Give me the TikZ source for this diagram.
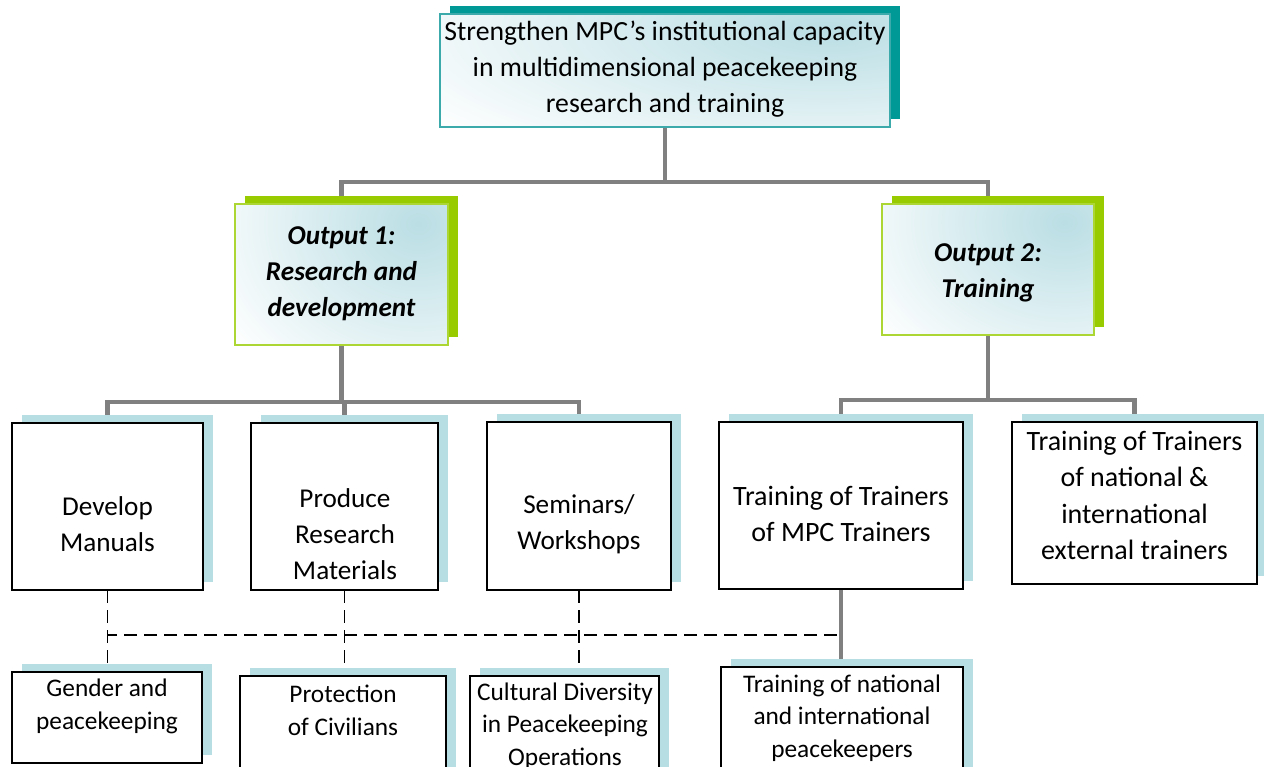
\documentclass[tikz,border=0pt]{standalone}
\usepackage{fontspec}
\setmainfont{Carlito}
\usetikzlibrary{shadows,calc,backgrounds}

\definecolor{tealdark}{RGB}{0,153,150}
\definecolor{tealline}{RGB}{60,170,170}
\definecolor{limegreen}{RGB}{153,204,0}
\definecolor{limeline}{RGB}{172,214,52}
\definecolor{paleblue}{RGB}{183,222,226}
\definecolor{softblue}{RGB}{186,222,228}
\definecolor{conngray}{RGB}{128,128,128}

\tikzset{
  px/.style 2 args={minimum width=#1*0.75pt, minimum height=#2*0.75pt},
  basebox/.style={rectangle, inner sep=0pt, outer sep=0pt},
  softfill/.style={fill=white, path picture={
      \shade[inner color=softblue, outer color=white] let
                \p1=(path picture bounding box.north east),
                \p2=(path picture bounding box.south west),
                \p3=($(path picture bounding box.north east)!0.14!(path picture bounding box.south west)$)
            in (\p3) ellipse ({1.1*(\x1-\x2)} and {1.4*(\y1-\y2)});}},
  offset shadow/.style={general shadow={shadow xshift=7.5pt, shadow yshift=6pt, fill=#1, draw=none}},
  goalbox/.style={basebox, softfill, draw=tealline, line width=1.4pt, offset shadow=tealdark},
  outbox/.style={basebox, softfill, draw=limeline, line width=1.4pt, offset shadow=limegreen},
  actbox/.style={basebox, fill=white, draw=black, line width=1.2pt, offset shadow=paleblue},
  goaltext/.style={align=center, font=\fontsize{20.8}{26.8}\selectfont},
  outtext/.style={align=center, font=\fontsize{20.4}{27}\selectfont\bfseries\itshape},
  bigtext/.style={align=center, font=\fontsize{20.4}{27}\selectfont},
  widetext/.style={align=center, font=\fontsize{21}{27.2}\selectfont},
  smalltext/.style={align=center, font=\fontsize{19}{24.5}\selectfont},
  conn/.style={draw=conngray, line width=3.2pt},
  dashline/.style={draw=black, line width=1.3pt, dash pattern=on 9.75pt off 5.25pt}
}

\begin{document}
\begin{tikzpicture}[x=0.75pt, y=-0.75pt]
\useasboundingbox (0,0) rectangle (1264,767);
\clip (0,0) rectangle (1264,767);

% goal
\node[goalbox, px={450}{113}] (top) at (665,70.5) {};
% outputs
\node[outbox, px={213}{141}] (o1) at (341.5,274.5) {};
\node[outbox, px={212}{131}] (o2) at (988,269.5) {};
% activities
\node[actbox, px={191}{167}] (dm)  at (107.5,506.5) {};
\node[actbox, px={187}{167}] (prm) at (344.5,506.5) {};
\node[actbox, px={184}{168}] (sem) at (579,506) {};
\node[actbox, px={244}{167}] (mpc) at (841,505.5) {};
\node[actbox, px={245}{162}] (ext) at (1134.5,503) {};
% themes
\node[actbox, px={190}{91}]  (gen) at (107,717.5) {};
\node[actbox, px={206}{104}] (poc) at (343,728) {};
\node[actbox, px={189}{109}] (cul) at (564.5,730.5) {};
\node[actbox, px={242}{118}] (tnp) at (842,726) {};

% labels
\node[goaltext] (ttop) at (665,69) {Strengthen MPC’s institutional capacity\\in multidimensional peacekeeping\\research and training};
\node[outtext] (to1) at (341.5,274) {Output 1:\\Research and\\development};
\node[outtext] (to2) at (988,273) {Output 2:\\Training};
\node[bigtext] (tdm) at (107.5,524) {Develop\\Manuals};
\node[bigtext] (tprm) at (345,534) {Produce\\Research\\Materials};
\node[bigtext] (tsem) at (579,524) {Seminars/\\Workshops};
\node[widetext] (tmpc) at (841,514) {Training of Trainers\\of MPC Trainers};
\node[widetext] (text) at (1134.5,495.5) {Training of Trainers\\of national \&\\international\\external trainers};
\node[smalltext] (tgen) at (107,706.5) {Gender and\\peacekeeping};
\node[smalltext] (tpoc) at (343,710.5) {Protection\\of Civilians};
\node[smalltext] (tcul) at (565,726) {Cultural Diversity\\in Peacekeeping\\Operations};
\node[smalltext] (ttnp) at (842,718) {Training of national\\and international\\peacekeepers};

% connectors
\begin{scope}[on background layer]
  \coordinate (bus0) at (665,182);
  \coordinate (bus1) at (341.5,402);
  \coordinate (bus2) at (988,400);
  \draw[conn] (top.south) -- (bus0);
  \draw[conn] (o1.north) |- (bus0) -| (o2.north);
  \draw[conn] (o1.south) -- (bus1);
  \draw[conn] (dm.north) |- (bus1) -| (sem.north);
  \draw[conn] (prm.north) -- (prm.north |- bus1);
  \draw[conn] (o2.south) -- (bus2);
  \draw[conn] (mpc.north) |- (bus2) -| (ext.north);
  \draw[conn] (mpc.south) -- (mpc.south |- tnp.north);
  \draw[dashline] (dm.south) -- (dm.south |- gen.north);
  \draw[dashline] (prm.south) -- (prm.south |- poc.north);
  \draw[dashline] (sem.south) -- (sem.south |- cul.north);
  \coordinate (dend) at (837,635);
  \draw[dashline] (dend) -- (dend -| dm.south);
\end{scope}
\end{tikzpicture}
\end{document}
